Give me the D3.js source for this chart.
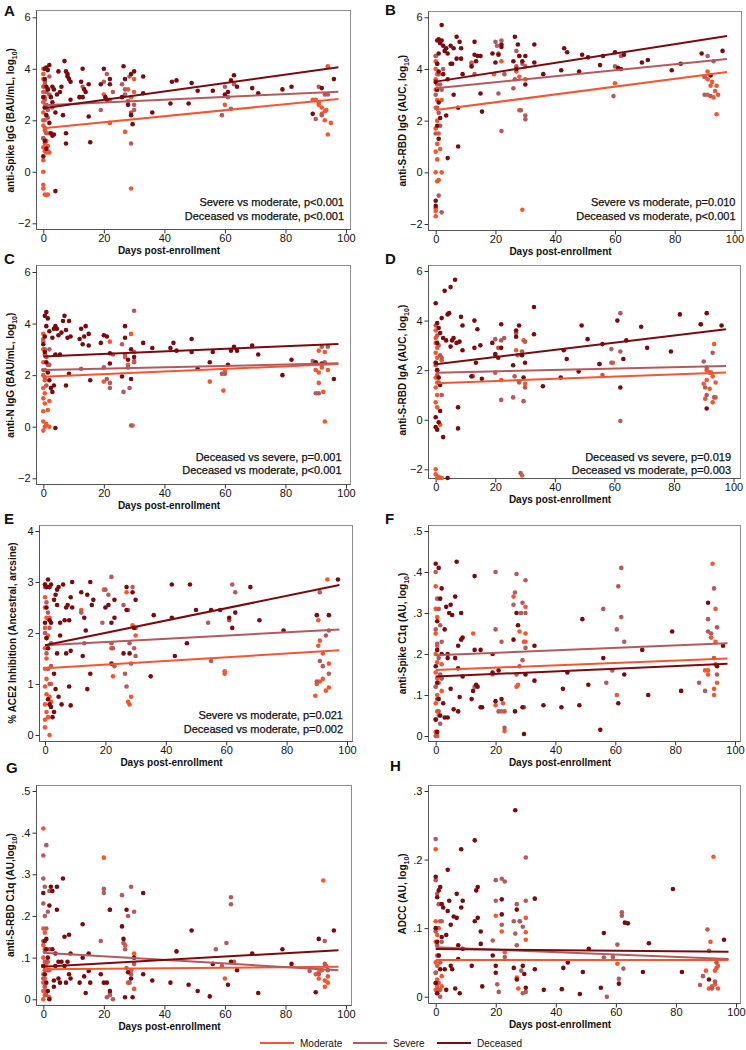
<!DOCTYPE html>
<html><head><meta charset="utf-8">
<script src="https://cdn.jsdelivr.net/npm/d3@7"></script>
<style>
html,body{margin:0;padding:0;background:#fff;}
svg{display:block;font-family:"Liberation Sans",Arial,sans-serif;}
</style></head>
<body><svg id="chart" width="746" height="1050"></svg>
<script>
// ---------------- DATA ----------------
const groups = ["Moderate","Severe","Deceased"];
const groupColors = ["#f5562f","#b55a5c","#7b0a0f"];
const xTicks = [0,20,40,60,80,100];
const yTicksLog = [-2,0,2,4,6];
const yTicksACE = [0,1,2,3,4];
const yTicksC1q = [0,.1,.2,.3,.4,.5];
const yTicksADCC = [0,.1,.2,.3];
const fitDays = [0,97.5];

// Panel A: anti-Spike IgG
const aModerate = [[0,4.0],[0,3.8],[0,3.6],[0.5,3.4],[0,3.1],[0.5,2.9],[0,2.7],[0.5,2.5],[0,2.3],[0.5,2.0],[0,1.8],[0.5,1.6],[0,1.3],[0.5,1.1],[0,0.95],[0.5,0.8],[1,0.75],[1.5,0.8],[2,0.75],[0,0.45],[0,0.0],[0,-0.5],[0,-0.65],[0.5,-0.88],[1,-0.9],[1.5,-0.88],[1,1.2],[1.5,1.0],[2,1.5],[1,2.5],[1.5,3.2],[29,-0.65],[27,1.55],[28,3.2],[29,2.9],[30,3.6],[30,3.1],[20,3.0],[22,1.9],[60,2.6],[90,2.8],[91,2.7],[91,2.6],[92,2.5],[92,2.25],[93,2.35],[93.5,2.4],[94,4.1],[94,1.45],[95,1.9],[93,2.0],[89,2.8]];
const aSevere = [[0,3.3],[0.5,2.8],[1,2.6],[1.5,2.4],[0,2.0],[0.5,1.7],[1,1.5],[2,3.0],[2,3.7],[0.5,3.5],[1,3.1],[1.5,2.1],[0,1.3],[3,2.5],[12,2.9],[13,3.3],[19,2.4],[20,3.5],[21,3.8],[22,2.8],[23,3.1],[26,3.4],[27,3.2],[27,3.0],[28,2.75],[28.5,3.7],[29,2.3],[29,1.1],[30,2.6],[30,2.4],[59,2.2],[60,3.3],[61,2.9],[62,2.45],[63,3.4],[91,3.3],[92,2.2],[93,3.0],[90,2.05],[94,3.0]];
const aDeceased = [[0.5,4.0],[1,4.05],[1.5,3.95],[2,4.15],[0.5,3.6],[1,3.3],[1.5,3.2],[0,2.9],[0.5,2.5],[1,2.2],[2,1.9],[2.5,1.5],[3,1.4],[3.5,1.45],[1,0.9],[0,0.6],[0.5,1.2],[4,-0.75],[3,3.3],[3.5,3.2],[2.5,2.9],[3,2.7],[4,2.3],[4.5,3.0],[5,3.9],[5.5,3.1],[6,3.3],[6.5,2.2],[7,4.3],[7.5,3.9],[8,3.7],[8,3.8],[8.5,3.6],[9,3.5],[9,2.8],[7.5,1.5],[7.5,1.1],[12,2.9],[12.5,3.5],[13,4.0],[13,2.9],[13.5,3.2],[14,3.1],[15,2.15],[15.5,1.15],[15,3.4],[19,3.4],[20,4.0],[20.5,2.9],[22,3.6],[22,3.4],[21,2.8],[26.5,4.1],[26,2.9],[27,3.6],[28,2.6],[29,2.2],[29.5,1.85],[29,3.8],[30,3.9],[33,3.7],[33,3.05],[36,2.3],[42,2.65],[42.5,3.5],[44,3.55],[48,2.65],[49,3.45],[51,3.15],[56,3.15],[60,3.0],[61,3.1],[62,3.55],[63,3.75],[64,3.3],[69,3.25],[71,3.05],[79,3.2],[82,3.3],[89,2.25],[92,3.25],[96,3.6]];
const aFit = [[1.69,2.83],[2.58,3.11],[2.47,4.06]];
const aNotes = ["Severe vs moderate, p<0.001","Deceased vs moderate, p<0.001"];

// Panel B: anti-S-RBD IgG
const bModerate = [[0,4.5],[0,4.3],[0,4.0],[0.5,3.8],[0,3.6],[0.5,3.4],[0,3.2],[0.5,2.8],[0,2.5],[0.5,2.0],[0,1.7],[0.5,1.1],[0,0.8],[0.5,0.5],[0,0.0],[0.5,-0.35],[1,-0.3],[2,0.0],[0,-1.4],[0,-1.5],[0,-1.7],[1,1.5],[1.5,0.9],[2,2.8],[12,4.25],[19.5,3.8],[22,4.3],[27,3.9],[28,2.4],[29,-1.45],[28,3.7],[30,3.6],[60,3.45],[90,3.7],[91,3.9],[91,3.6],[92,3.35],[92.5,3.5],[93,2.9],[93.5,3.15],[94,3.35],[94,2.25],[94.5,3.0],[91,3.0]];
const bSevere = [[0,4.5],[0.5,4.2],[1,3.8],[1.5,3.4],[0,3.0],[0.5,2.5],[1,2.3],[1.5,1.8],[0,1.5],[2,-1.55],[1,-0.9],[2,3.2],[2.5,4.0],[12,4.2],[13,3.8],[20,5.05],[20.5,4.9],[21,3.05],[21,4.6],[22,5.1],[22,1.6],[23,3.8],[26,3.25],[26.5,3.6],[27,4.1],[27,4.7],[28,4.5],[28.5,2.4],[29,4.2],[30,2.05],[30,2.2],[30,4.1],[59.5,2.95],[60,4.1],[62,4.5],[90,3.0],[91,4.5],[92,2.95],[93,4.3],[90,3.7]];
const bDeceased = [[0.5,5.1],[1,5.15],[1.5,5.0],[2,5.1],[2.5,4.9],[1,4.6],[0.5,4.2],[1,3.9],[0,3.5],[0.5,3.2],[1,2.7],[1.5,2.1],[0.5,1.8],[0,-1.1],[0,-1.3],[1,1.3],[2,5.7],[3,4.7],[3.5,4.8],[4,4.6],[4,3.6],[4,0.55],[3.5,2.2],[2.5,3.8],[5,4.9],[5,4.2],[5.5,4.2],[6,4.8],[6,3.0],[7,5.25],[7,4.4],[7.5,2.5],[7.5,1.0],[8,5.05],[8.5,4.8],[8.5,4.4],[9,3.8],[12,4.1],[13,4.55],[13,5.05],[13.5,4.3],[14,4.5],[15,3.05],[15.5,2.35],[15,4.5],[19,4.6],[20,4.25],[21,4.55],[22,4.95],[22,4.85],[26.5,5.25],[26,4.3],[27,4.0],[27.5,4.95],[28,4.5],[29,4.3],[30,3.4],[30,4.5],[33,4.95],[33,4.25],[36,3.8],[42,3.95],[43,4.8],[44,4.65],[48,3.9],[49,4.55],[51,4.45],[55,4.15],[56,4.5],[60,4.65],[61,4.05],[62,4.0],[63,4.55],[69,4.25],[71,4.35],[79,3.95],[82,4.2],[89,4.6],[92,3.75],[96,4.7]];
const bFit = [[2.41,3.88],[3.25,4.39],[3.51,5.28]];
const bNotes = ["Severe vs moderate, p=0.010","Deceased vs moderate, p<0.001"];

// Panel C: anti-N IgG
const cModerate = [[0,3.6],[0,3.3],[0,3.0],[0.5,2.8],[0,2.5],[0.5,2.2],[0,2.0],[0.5,1.8],[0,1.5],[0.5,1.3],[0,1.1],[0.5,0.9],[0,0.6],[0,0.2],[0,-0.15],[0.5,0.0],[1,0.1],[2,0.0],[1.5,0.65],[2,1.0],[20,1.75],[22,3.3],[27,2.7],[28,2.4],[29,3.6],[29.5,0.05],[30,2.55],[55,1.75],[59.5,1.4],[60,2.15],[90,2.2],[91,2.95],[91,1.7],[91,2.1],[92,2.3],[92.5,1.35],[93,0.2],[94,2.2],[93,2.9]];
const cSevere = [[0,3.4],[0.5,3.0],[1,2.7],[1.5,2.4],[0,2.2],[0.5,1.9],[1,1.6],[2,2.4],[2,3.0],[12.5,2.25],[20,2.3],[21,1.85],[22,1.7],[22,1.5],[23,2.8],[26,3.2],[26.5,1.35],[27,2.8],[28,2.3],[28.5,1.5],[29,0.05],[30,4.5],[30,2.9],[30,2.5],[59,2.05],[60,2.05],[63,3.05],[89,2.55],[90,1.3],[91,1.3],[92,3.1],[93,2.5],[94,3.1]];
const cDeceased = [[0.5,4.3],[1,4.45],[1.5,4.2],[1,3.9],[0.5,3.5],[0,3.2],[0.5,2.9],[1,2.5],[1.5,2.1],[2,1.8],[2.5,1.5],[3,1.35],[3.5,1.6],[2,3.7],[3,3.45],[3.5,3.8],[4,3.9],[4.5,3.8],[4,2.8],[4,-0.05],[5,3.55],[5.5,2.8],[6,3.65],[6.5,4.1],[7,4.3],[7.5,3.75],[7.5,1.6],[8,3.45],[8.5,4.1],[8.5,2.05],[9,3.5],[12,3.4],[12.5,3.8],[13,3.2],[13.5,3.5],[14,3.9],[15,3.6],[15,3.15],[15.5,1.8],[19,3.25],[20,3.55],[21,3.5],[22,2.85],[22,2.45],[26,1.95],[27,3.9],[27,3.45],[28,2.6],[29,3.0],[29,1.85],[30,2.7],[33,3.25],[36,3.05],[42,3.05],[43,3.25],[44,2.95],[49,3.4],[49,2.9],[51,2.25],[55,2.5],[56,2.9],[61,2.4],[62,2.95],[63,3.1],[64,2.95],[69,3.15],[71,2.8],[79,2.0],[82,2.6],[90,2.5],[92,2.45],[96,1.85]];
const cFit = [[1.94,2.43],[2.2,2.46],[2.72,3.21]];
const cNotes = ["Deceased vs severe, p=0.001","Deceased vs moderate, p<0.001"];

// Panel D: anti-S-RBD IgA
const dModerate = [[0,3.6],[0,3.3],[0,3.1],[0.5,2.9],[0,2.7],[0.5,2.5],[0,2.3],[0.5,2.0],[0,1.7],[0.5,1.5],[0,1.3],[0.5,1.0],[0,0.7],[0.5,0.5],[0,-2.0],[0,-2.2],[0.5,-2.35],[1,-2.3],[1.5,-2.35],[2,-2.35],[1.5,-0.2],[2,2.4],[20,2.6],[22,1.6],[27,2.8],[28,1.5],[29,-2.25],[29.5,3.2],[30,1.45],[59.5,2.3],[90,1.45],[90.5,0.85],[91,1.6],[91,2.0],[92,1.25],[92.5,1.9],[93,0.7],[93.5,3.05],[94,1.5],[94,0.9],[93,1.75]];
const dSevere = [[0,3.8],[0.5,3.4],[1,3.0],[1.5,2.6],[0,2.2],[0.5,1.8],[1,1.5],[2,2.5],[2,1.0],[12.5,1.75],[20,3.25],[20,1.9],[21,2.9],[22,3.2],[22,0.8],[23,3.3],[26,0.9],[26.5,1.75],[27,3.5],[27.5,2.6],[28,1.55],[28.5,-2.15],[29,2.75],[29.5,0.75],[30,3.15],[30,1.3],[55,2.25],[56,1.8],[59,2.3],[59,2.85],[62,4.3],[62,2.75],[62,-0.05],[89,3.85],[90,2.35],[91,2.1],[91,1.0],[92,1.9],[93,2.7],[93.5,0.9],[90.5,1.3]];
const dDeceased = [[0,4.7],[0.5,3.9],[1,3.7],[1.5,3.5],[0.5,3.1],[0,2.3],[0.5,2.0],[1,1.7],[1.5,1.4],[0,0.1],[0,-0.3],[0.5,-0.4],[1,-0.1],[1.5,0.35],[2.5,-0.7],[4,-2.35],[2,4.1],[2.5,3.3],[3,5.2],[3.5,3.2],[4,4.25],[4.5,4.3],[5,5.35],[5,2.95],[5.5,3.2],[6,3.3],[6.5,5.65],[7,3.1],[7.5,0.5],[7.5,-0.35],[8,3.15],[8.5,4.15],[9,3.8],[9,2.8],[12,1.75],[13,4.0],[13,2.9],[13.5,2.3],[14,3.65],[15,3.0],[15.5,1.65],[19,3.1],[20,2.65],[21,2.5],[22,3.85],[22,2.9],[26,2.2],[27,3.6],[27,3.35],[28,3.8],[29,2.6],[29.5,1.7],[30,2.3],[33,4.55],[33,3.45],[36,1.35],[42,1.7],[43,2.8],[44,2.45],[48,1.95],[49,3.8],[51,3.25],[55,2.25],[56,3.05],[61,4.0],[62,1.3],[63,2.45],[64,3.2],[69,3.75],[71,2.9],[79,2.75],[82,4.25],[89,3.85],[91,4.3],[91,0.45],[96,3.8]];
const dFit = [[1.47,1.91],[1.9,2.17],[2.24,3.65]];
const dNotes = ["Deceased vs severe, p=0.019","Deceased vs moderate, p=0.003"];

// Panel E: % ACE2 inhibition
const eModerate = [[0,2.95],[0,2.7],[0,2.5],[0.5,2.3],[0,2.1],[0.5,1.9],[0,1.7],[0.5,1.5],[0,1.3],[0.5,1.1],[0,0.95],[0.5,0.8],[0,0.6],[0.5,0.45],[0,0.3],[0,0.15],[1,0.35],[1.5,0.0],[1.5,0.75],[2,1.0],[2,0.65],[1,1.95],[1.5,2.3],[12,2.45],[19.5,2.85],[22,1.7],[22.5,1.15],[27,2.8],[27.5,0.65],[28,0.6],[28.5,0.75],[29,2.15],[30,1.95],[59.5,1.2],[59.5,1.25],[89.5,0.77],[90,1.0],[90.5,1.75],[91,1.85],[91,1.05],[92,1.6],[92,1.1],[93,0.87],[93.5,3.05],[94,1.4],[94,0.93],[90.5,2.25]];
const eSevere = [[0,2.9],[0.5,2.6],[1,2.4],[1.5,2.1],[0,2.0],[0.5,1.6],[1,1.3],[1.5,1.0],[2,1.8],[2,1.35],[12,2.4],[13,1.8],[19,2.2],[20,2.85],[21,2.75],[22,3.1],[22,1.8],[22.5,1.7],[23,1.35],[26,2.55],[26.5,1.2],[27,0.95],[27.5,2.45],[28,1.8],[28.5,1.4],[29,2.9],[29.5,1.7],[30,2.1],[30,1.55],[54,2.2],[55,1.45],[61,2.25],[62,2.95],[63,2.8],[90,1.05],[91,2.8],[91,1.45],[92,1.35],[93,1.95],[94,2.05],[94,1.2]];
const eDeceased = [[0,2.95],[0.5,2.9],[1,3.05],[1.5,2.9],[2,2.95],[0.5,2.5],[0,2.2],[0.5,1.9],[1,1.7],[1.5,2.25],[2,2.2],[1,0.7],[1.5,0.6],[2,0.55],[2.5,0.35],[3,0.45],[3,1.2],[3,2.65],[3.5,2.75],[4,2.85],[4.5,2.9],[4,2.55],[4,1.6],[3.5,0.9],[4.5,0.75],[5,2.2],[5,1.95],[5.5,0.6],[6,2.95],[6.5,2.25],[7,1.6],[7,2.5],[7.5,2.55],[8,0.95],[8,2.25],[8.5,2.7],[8.5,1.65],[8.5,0.58],[9,3.0],[9,2.5],[12,2.8],[12.5,1.55],[13,2.3],[13.5,2.05],[14,0.9],[14,2.75],[15,3.0],[15,1.2],[15.5,2.55],[16,2.65],[20,2.5],[21,2.55],[22,2.2],[22,1.4],[23,2.65],[23,2.3],[26,1.6],[27,2.9],[27,2.45],[28,1.6],[29,2.8],[29.5,2.1],[30,2.65],[35,1.15],[36,2.35],[42,2.3],[42,2.95],[43,1.55],[47,1.8],[48,2.95],[50,2.45],[55,2.45],[58,2.45],[61,2.3],[62,2.1],[63,2.4],[68,2.9],[71,2.25],[79,2.05],[90,2.35],[94,2.35],[97,3.05]];
const eFit = [[1.31,1.66],[1.76,2.07],[1.76,2.94]];
const eNotes = ["Severe vs moderate, p=0.021","Deceased vs moderate, p=0.002"];

// Panel F: anti-Spike C1q
const fModerate = [[0,0.365],[0,0.31],[0.5,0.29],[0,0.25],[0.5,0.22],[0,0.2],[0.5,0.18],[0,0.155],[0.5,0.14],[0,0.12],[0.5,0.1],[0,0.08],[0.5,0.06],[0,0.04],[0,0.01],[0.5,0.0],[1,0.13],[1.5,0.145],[2,0.175],[2,0.11],[1,0.05],[12.5,0.25],[20,0.075],[22,0.06],[22.5,0.08],[23,0.012],[26,0.34],[27,0.12],[27.5,0.125],[28,0.255],[29.5,0.23],[30,0.315],[30,0.25],[30,0.23],[60.5,0.1],[90,0.16],[91,0.16],[91,0.15],[92,0.24],[92.5,0.42],[93,0.1],[93,0.115],[93.5,0.31],[94,0.13],[93.5,0.175],[93.5,0.23]];
const fSevere = [[0,0.4],[0.5,0.335],[1,0.31],[1.5,0.27],[0,0.26],[0.5,0.225],[1,0.19],[1.5,0.15],[0,0.12],[0.5,0.09],[1,0.06],[1.5,0.03],[0,0.0],[2,0.14],[2,0.23],[13,0.12],[19,0.15],[20,0.4],[20,0.26],[21,0.06],[22,0.23],[23,0.06],[23,0.02],[26,0.32],[26.5,0.35],[27,0.395],[27,0.15],[28,0.17],[28.5,0.3],[29,0.325],[29,0.185],[29.5,0.07],[30,0.38],[30,0.3],[30,0.215],[56,0.31],[57,0.13],[59,0.16],[60.5,0.26],[61,0.365],[62,0.41],[62,0.29],[63,0.23],[88,0.13],[90,0.11],[91,0.255],[91,0.285],[92,0.25],[93,0.36],[93,0.19],[94,0.265],[94,0.15]];
const fDeceased = [[0,0.42],[0.5,0.28],[1,0.41],[1.5,0.335],[2,0.36],[0.5,0.21],[0,0.17],[0.5,0.13],[1,0.09],[1.5,0.05],[0,0.04],[0.5,0.01],[2,0.2],[2.5,0.08],[3,0.26],[3,0.045],[3.5,0.315],[4,0.19],[4,0.2],[4,0.045],[4.5,0.3],[5,0.32],[5,0.115],[5.5,0.295],[6,0.065],[6.5,0.34],[6.5,0.19],[7,0.425],[7.5,0.22],[7.5,0.165],[7.5,0.06],[8,0.095],[8.5,0.3],[8.5,0.235],[9,0.24],[9,0.145],[12,0.09],[12.5,0.11],[13,0.39],[13,0.21],[13.5,0.125],[14,0.12],[15,0.21],[15,0.07],[15.5,0.07],[19,0.2],[19,0.155],[20,0.085],[21,0.16],[22,0.09],[26,0.235],[26.5,0.06],[27,0.3],[27.5,0.27],[29,0.07],[29.5,0.005],[30,0.15],[33,0.22],[33,0.135],[36,0.075],[42,0.07],[42.5,0.115],[44,0.155],[48,0.075],[49,0.285],[51,0.125],[55,0.015],[56,0.19],[61,0.08],[63,0.15],[69,0.21],[71,0.1],[79,0.255],[82,0.11],[91,0.325],[94,0.17],[96,0.22]];
const fFit = [[0.161,0.189],[0.197,0.226],[0.145,0.176]];

// Panel G: anti-S-RBD C1q
const gModerate = [[0,0.41],[0,0.17],[0.5,0.16],[0,0.13],[0.5,0.115],[0,0.1],[0.5,0.09],[0,0.08],[0.5,0.07],[0,0.06],[0.5,0.05],[0,0.04],[0.5,0.03],[0,0.02],[0.5,0.01],[0,0.0],[1,0.085],[1.5,0.09],[2,0.07],[1,0.02],[2,0.005],[20,0.34],[22,0.015],[27,0.13],[28,0.04],[29,0.07],[30,0.11],[30,0.025],[60,0.05],[90,0.06],[91,0.05],[91,0.065],[92,0.07],[92.5,0.285],[93,0.03],[93,0.045],[93.5,0.08],[94,0.04],[94,0.055]];
const gSevere = [[0,0.345],[0,0.29],[0.5,0.27],[1,0.37],[0,0.23],[0.5,0.2],[1,0.17],[0,0.14],[0.5,0.12],[1,0.09],[1.5,0.07],[0,0.05],[0.5,0.03],[1,0.01],[2,0.26],[2,0.12],[1.5,0.21],[19,0.14],[20,0.265],[20,0.255],[21,0.005],[22,0.215],[22,0.01],[23,0.0],[26,0.25],[26.5,0.135],[27,0.12],[27.5,0.075],[28,0.2],[28.5,0.04],[29,0.27],[29,0.06],[30,0.21],[30,0.085],[57,0.12],[59,0.08],[60.5,0.135],[62,0.245],[62,0.228],[63,0.09],[88,0.068],[91,0.06],[93,0.14],[93,0.085],[94,0.07]];
const gDeceased = [[0,0.255],[0.5,0.14],[1,0.145],[1,0.12],[1.5,0.1],[0,0.08],[0.5,0.06],[1,0.04],[1.5,0.02],[2,0.0],[2,0.225],[2.5,0.27],[3,0.26],[3,0.12],[3.5,0.045],[3.5,0.03],[4,0.11],[4,0.08],[4.5,0.215],[4.5,0.27],[5,0.09],[5,0.05],[5.5,0.04],[6,0.09],[6.5,0.29],[7,0.15],[7,0.08],[7.5,0.04],[8,0.09],[8.5,0.155],[8.5,0.06],[9,0.11],[9,0.05],[12,0.04],[13,0.18],[13,0.1],[13.5,0.055],[14,0.015],[15,0.11],[15,0.068],[15.5,0.04],[19,0.06],[20,0.04],[21,0.04],[22,0.215],[22,0.02],[26,0.175],[26.5,0.145],[27,0.005],[27.5,0.215],[28,0.065],[29,0.05],[29.5,0.005],[30,0.1],[33,0.255],[33,0.06],[36,0.045],[42,0.04],[44,0.115],[48,0.035],[49,0.165],[51,0.02],[55,0.007],[56,0.085],[61,0.035],[62,0.09],[64,0.07],[69,0.11],[71,0.015],[79,0.12],[82,0.085],[90,0.017],[91,0.145],[96,0.165]];
const gFit = [[0.072,0.078],[0.112,0.070],[0.078,0.118]];

// Panel H: ADCC
const hModerate = [[0,0.215],[0,0.11],[0.5,0.09],[0,0.08],[0.5,0.06],[0,0.05],[0.5,0.045],[0,0.035],[0.5,0.025],[0,0.02],[0.5,0.015],[0,0.01],[0.5,0.005],[1,0.02],[1.5,0.01],[2,0.015],[1,0.1],[2,0.03],[20,0.118],[22,0.095],[23,0.065],[27,0.028],[27.5,0.012],[28,0.11],[30,0.115],[30,0.094],[30,0.083],[60.5,0.048],[90,0.038],[91,0.012],[91.5,0.08],[92,0.015],[92.5,0.204],[93,0.038],[93,0.018],[93.5,0.042],[94,0.045],[94,0.012]];
const hSevere = [[0,0.23],[0,0.17],[0.5,0.15],[1,0.135],[1.5,0.11],[0,0.095],[0.5,0.075],[1,0.06],[1.5,0.05],[0,0.035],[0.5,0.02],[1,0.01],[1.5,0.0],[2,0.08],[2,0.11],[19,0.082],[20,0.17],[20,0.14],[20.5,0.018],[21,0.007],[22,0.172],[22,0.105],[23,0.168],[23,0.058],[26,0.11],[26.5,0.092],[27,0.135],[27,0.075],[28,0.11],[28.5,0.038],[29,0.102],[29,0.005],[30,0.203],[30,0.14],[30,0.007],[56,0.057],[57,0.0],[59,0.058],[60.5,0.076],[61,0.026],[62,0.118],[62,0.123],[62.5,0.041],[88,0.017],[89,0.03],[90.5,0.098],[91,0.067],[92,0.012],[93,0.022],[93.5,0.05]];
const hDeceased = [[0,0.175],[0.5,0.145],[1,0.155],[1.5,0.16],[0,0.1],[0.5,0.08],[1,0.06],[1.5,0.04],[0,0.02],[0.5,0.005],[2,0.135],[2,0.087],[2.5,0.13],[3,0.04],[3.5,0.01],[3.5,0.09],[4,0.185],[4,0.125],[4.5,0.14],[5,0.105],[5,0.045],[5.5,0.04],[6,0.117],[6.5,0.012],[7,0.15],[7,0.115],[7.5,0.075],[7.5,0.055],[8,0.005],[8.5,0.215],[8.5,0.13],[9,0.14],[9,0.07],[12,0.045],[13,0.228],[13,0.11],[13.5,0.155],[14,0.115],[14,0.16],[15,0.095],[15,0.077],[15.5,0.015],[19,0.06],[20,0.045],[20,0.035],[22,0.142],[22,0.12],[26,0.042],[26.5,0.272],[27,0.127],[27,0.025],[29,0.045],[29.5,0.033],[30,0.013],[33,0.143],[33,0.04],[36,0.01],[42,0.011],[42.5,0.042],[44,0.05],[48,0.004],[49,0.036],[51,0.07],[55,0.013],[56,0.093],[61,0.019],[63,0.108],[64,0.107],[69,0.036],[71,0.078],[79,0.157],[82,0.036],[91,0.025],[96,0.083]];
const hFit = [[0.0535,0.0535],[0.072,0.055],[0.0696,0.0656]];

// ---------------- LAYOUT ----------------
const panels = [
 {id:"A", title:["anti-Spike IgG (BAU/mL, log","10",")"], pts:[aModerate,aSevere,aDeceased], fit:aFit, notes:aNotes, yTicks:yTicksLog,
  frame:[36,10,350,229], xr:[43.3,346], yd:[-2,6], yr:[223.3,17.3], letter:[4,16], ytx:14, noteX:344, noteY:[206,219.5]},
 {id:"B", title:["anti-S-RBD IgG (AUC, log","10",")"], pts:[bModerate,bSevere,bDeceased], fit:bFit, notes:bNotes, yTicks:yTicksLog,
  frame:[428,11,741,230], xr:[435.7,734.5], yd:[-2,6], yr:[224,17.3], letter:[385,15], ytx:406, noteX:735.5, noteY:[206,219.5]},
 {id:"C", title:["anti-N IgG (BAU/mL, log","10",")"], pts:[cModerate,cSevere,cDeceased], fit:cFit, notes:cNotes, yTicks:yTicksLog,
  frame:[36,265,350,484], xr:[43.3,346], yd:[-2,6], yr:[478.3,272], letter:[4,264], ytx:14, noteX:341.5, noteY:[461,474]},
 {id:"D", title:["anti-S-RBD IgA (AUC, log","10",")"], pts:[dModerate,dSevere,dDeceased], fit:dFit, notes:dNotes, yTicks:yTicksLog,
  frame:[428,265,740,478], xr:[435.7,733.5], yd:[-2,6], yr:[469.3,271], letter:[385,264], ytx:406, noteX:731, noteY:[461,474]},
 {id:"E", title:["% ACE2 Inhibition (Ancestral, arcsine)"], pts:[eModerate,eSevere,eDeceased], fit:eFit, notes:eNotes, yTicks:yTicksACE,
  frame:[39,525,352,741], xr:[45,347], yd:[0,4], yr:[735,531], letter:[4,524], ytx:16, noteX:343, noteY:[719,733]},
 {id:"F", title:["anti-Spike C1q (AU, log","10",")"], pts:[fModerate,fSevere,fDeceased], fit:fFit, notes:[], yTicks:yTicksC1q,
  frame:[428,525,740,741], xr:[435.7,735], yd:[0,.5], yr:[736,531], letter:[385,524], ytx:406, noteX:0, noteY:[]},
 {id:"G", title:["anti-S-RBD C1q (AU,log","10",")"], pts:[gModerate,gSevere,gDeceased], fit:gFit, notes:[], yTicks:yTicksC1q,
  frame:[36,785,351,1005], xr:[43.3,346], yd:[0,.5], yr:[999.3,791], letter:[6,773], ytx:14, noteX:0, noteY:[]},
 {id:"H", title:["ADCC (AU, log","10",")"], pts:[hModerate,hSevere,hDeceased], fit:hFit, notes:[], yTicks:yTicksADCC,
  frame:[428,785,740,1003], xr:[435.7,736], yd:[0,.3], yr:[996.7,791], letter:[390,771], ytx:406, noteX:0, noteY:[]}
];

const svg = d3.select("#chart");
const fmtY = (ticks) => d => {
  if (ticks === yTicksLog || ticks === yTicksACE) return d3.format("d")(d);
  return d === 0 ? "0" : d3.format(".1f")(d).replace(/^0/, "");
};

panels.forEach(p => {
  const g = svg.append("g");
  const [fx0, fy0, fx1, fy1] = p.frame;
  const x = d3.scaleLinear().domain([0,100]).range(p.xr);
  const y = d3.scaleLinear().domain(p.yd).range(p.yr);

  g.append("rect").attr("x", fx0+0.5).attr("y", fy0+0.5).attr("width", fx1-fx0).attr("height", fy1-fy0)
    .attr("fill","#fff").attr("stroke","#8c8c8c").attr("stroke-width",1);

  // axes
  const xAxis = d3.axisBottom(x).tickValues(xTicks).tickSize(4).tickPadding(1).tickFormat(d3.format("d"));
  const gx = g.append("g").attr("transform", `translate(0,${fy1+0.5})`).call(xAxis);
  gx.select(".domain").attr("d", `M${fx0+0.5},0H${fx1+0.5}`).attr("stroke","#555");
  const yAxis = d3.axisLeft(y).tickValues(p.yTicks).tickSize(4).tickPadding(2).tickFormat(fmtY(p.yTicks));
  const gy = g.append("g").attr("transform", `translate(${fx0+0.5},0)`).call(yAxis);
  gy.select(".domain").attr("d", `M0,${fy0+0.5}V${fy1+0.5}`).attr("stroke","#555");
  [gx, gy].forEach(a => {
    a.selectAll(".tick line").attr("stroke","#333");
    a.selectAll(".tick text").attr("font-size", 11).attr("fill","#111")
      .attr("font-family","'Liberation Sans',Arial,sans-serif");
  });

  // points
  p.pts.forEach((arr, gi) => {
    g.append("g").selectAll("circle").data(arr).join("circle")
      .attr("cx", d => x(d[0])).attr("cy", d => y(d[1])).attr("r", 2.3)
      .attr("fill", groupColors[gi]);
  });
  // fit lines
  p.fit.forEach((f, gi) => {
    const line = d3.line().x(d => x(d[0])).y(d => y(d[1]));
    g.append("path").datum([[fitDays[0], f[0]], [fitDays[1], f[1]]])
      .attr("d", line).attr("stroke", groupColors[gi]).attr("stroke-width", 2).attr("fill","none");
  });

  // notes
  p.notes.forEach((t, i) => {
    g.append("text").attr("x", p.noteX).attr("y", p.noteY[i]).attr("text-anchor","end")
      .attr("font-size", 11).attr("fill","#111").attr("stroke","#111").attr("stroke-width",0.25).text(t);
  });

  // y title
  const cy = (p.yr[0] + p.yr[1]) / 2;
  const yt = g.append("text").attr("transform", `translate(${p.ytx},${cy}) rotate(-90)`)
    .attr("text-anchor","middle").attr("font-size", 10).attr("font-weight","bold").attr("fill","#111");
  yt.append("tspan").text(p.title[0]);
  if (p.title.length > 1) {
    yt.append("tspan").attr("font-size", 7).attr("dy", 2.5).text(p.title[1]);
    yt.append("tspan").attr("dy", -2.5).text(p.title[2]);
  }
  // x title
  g.append("text").attr("x", (fx0 + fx1) / 2 - 24).attr("y", fy1 + 25)
    .attr("text-anchor","middle").attr("font-size", 10).attr("font-weight","bold").attr("fill","#111")
    .text("Days post-enrollment");
  // letter
  g.append("text").attr("x", p.letter[0]).attr("y", p.letter[1]).attr("font-size", 15)
    .attr("font-weight","bold").attr("fill","#111").text(p.id);
});

// legend
const legendX = [260, 353, 437];
const legend = svg.append("g");
groups.forEach((name, i) => {
  legend.append("line").attr("x1", legendX[i]).attr("x2", legendX[i] + 34).attr("y1", 1043).attr("y2", 1043)
    .attr("stroke", groupColors[i]).attr("stroke-width", 2);
  legend.append("text").attr("x", legendX[i] + 40).attr("y", 1047).attr("font-size", 10).attr("fill","#111").text(name);
});
</script></body></html>
